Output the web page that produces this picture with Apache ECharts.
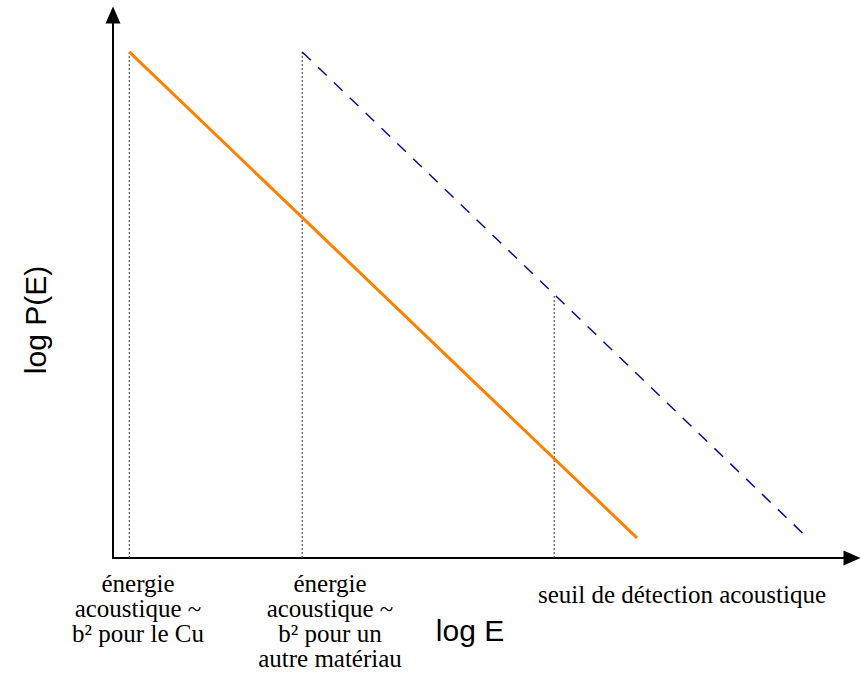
<!DOCTYPE html>
<html>
<head>
<meta charset="utf-8">
<script src="https://cdn.jsdelivr.net/npm/echarts@6/dist/echarts.min.js"></script>
<style>
html, body { margin: 0; padding: 0; background: #fff; }
#chart { width: 861px; height: 695px; }
</style>
</head>
<body>
<div id="chart"></div>
<script>
// both axes in arbitrary log units, 0..100
var cuLine = [[2.2, 93.2], [70.9, 3.7]];
var otherLine = [[25.6, 93.2], [93.6, 4.2]];
var markerX = [2.2, 25.6, 59.7];
var markerTop = [93.2, 93.2, 48.4];
var bottomLabels = [
    'énergie\nacoustique ~\nb² pour le Cu',
    'énergie\nacoustique ~\nb² pour un\nautre matériau',
    'seuil de détection acoustique'
];
var xTitle = 'log E';
var yTitle = 'log P(E)';

var chart = echarts.init(document.getElementById('chart'), null, {renderer: 'svg'});

var series = [];
for (var i = 0; i < markerX.length; i++) {
    series.push({
        type: 'line',
        data: [[markerX[i], 0], [markerX[i], markerTop[i]]],
        symbol: 'none',
        silent: true,
        lineStyle: {color: '#333', width: 1, type: [2, 2]}
    });
}
series.push({
    type: 'line',
    data: cuLine,
    symbol: 'none',
    lineStyle: {color: '#ff8000', width: 3}
});
series.push({
    type: 'line',
    data: otherLine,
    symbol: 'none',
    lineStyle: {color: '#0a0a9c', width: 1.5, type: [12, 10]}
});

var serif = {fontFamily: 'Liberation Serif', fontSize: 25, fill: '#000', align: 'center', lineHeight: 25};

option = {
    animation: false,
    grid: {left: 113, right: 9, top: 15, bottom: 137},
    xAxis: {
        type: 'value', min: 0, max: 100,
        axisLine: {show: true, symbol: ['none', 'triangle'], symbolSize: [15, 17], lineStyle: {color: '#000', width: 2}},
        axisTick: {show: false}, axisLabel: {show: false}, splitLine: {show: false}
    },
    yAxis: {
        type: 'value', min: 0, max: 100,
        axisLine: {show: true, symbol: ['none', 'triangle'], symbolSize: [15, 17], lineStyle: {color: '#000', width: 2}},
        axisTick: {show: false}, axisLabel: {show: false}, splitLine: {show: false}
    },
    graphic: [
        {type: 'text', x: 138, y: 571, style: Object.assign({text: bottomLabels[0]}, serif)},
        {type: 'text', x: 330, y: 571, style: Object.assign({text: bottomLabels[1]}, serif)},
        {type: 'text', x: 682, y: 582, style: Object.assign({text: bottomLabels[2]}, serif)},
        {type: 'text', x: 470, y: 630, style: {text: xTitle, fontFamily: 'Liberation Sans', fontSize: 30, fill: '#000', align: 'center', verticalAlign: 'middle'}},
        {type: 'text', x: 35, y: 320, rotation: Math.PI / 2, style: {text: yTitle, fontFamily: 'Liberation Sans', fontSize: 30, fill: '#000', align: 'center', verticalAlign: 'middle'}}
    ],
    series: series
};

chart.setOption(option);
</script>
</body>
</html>
